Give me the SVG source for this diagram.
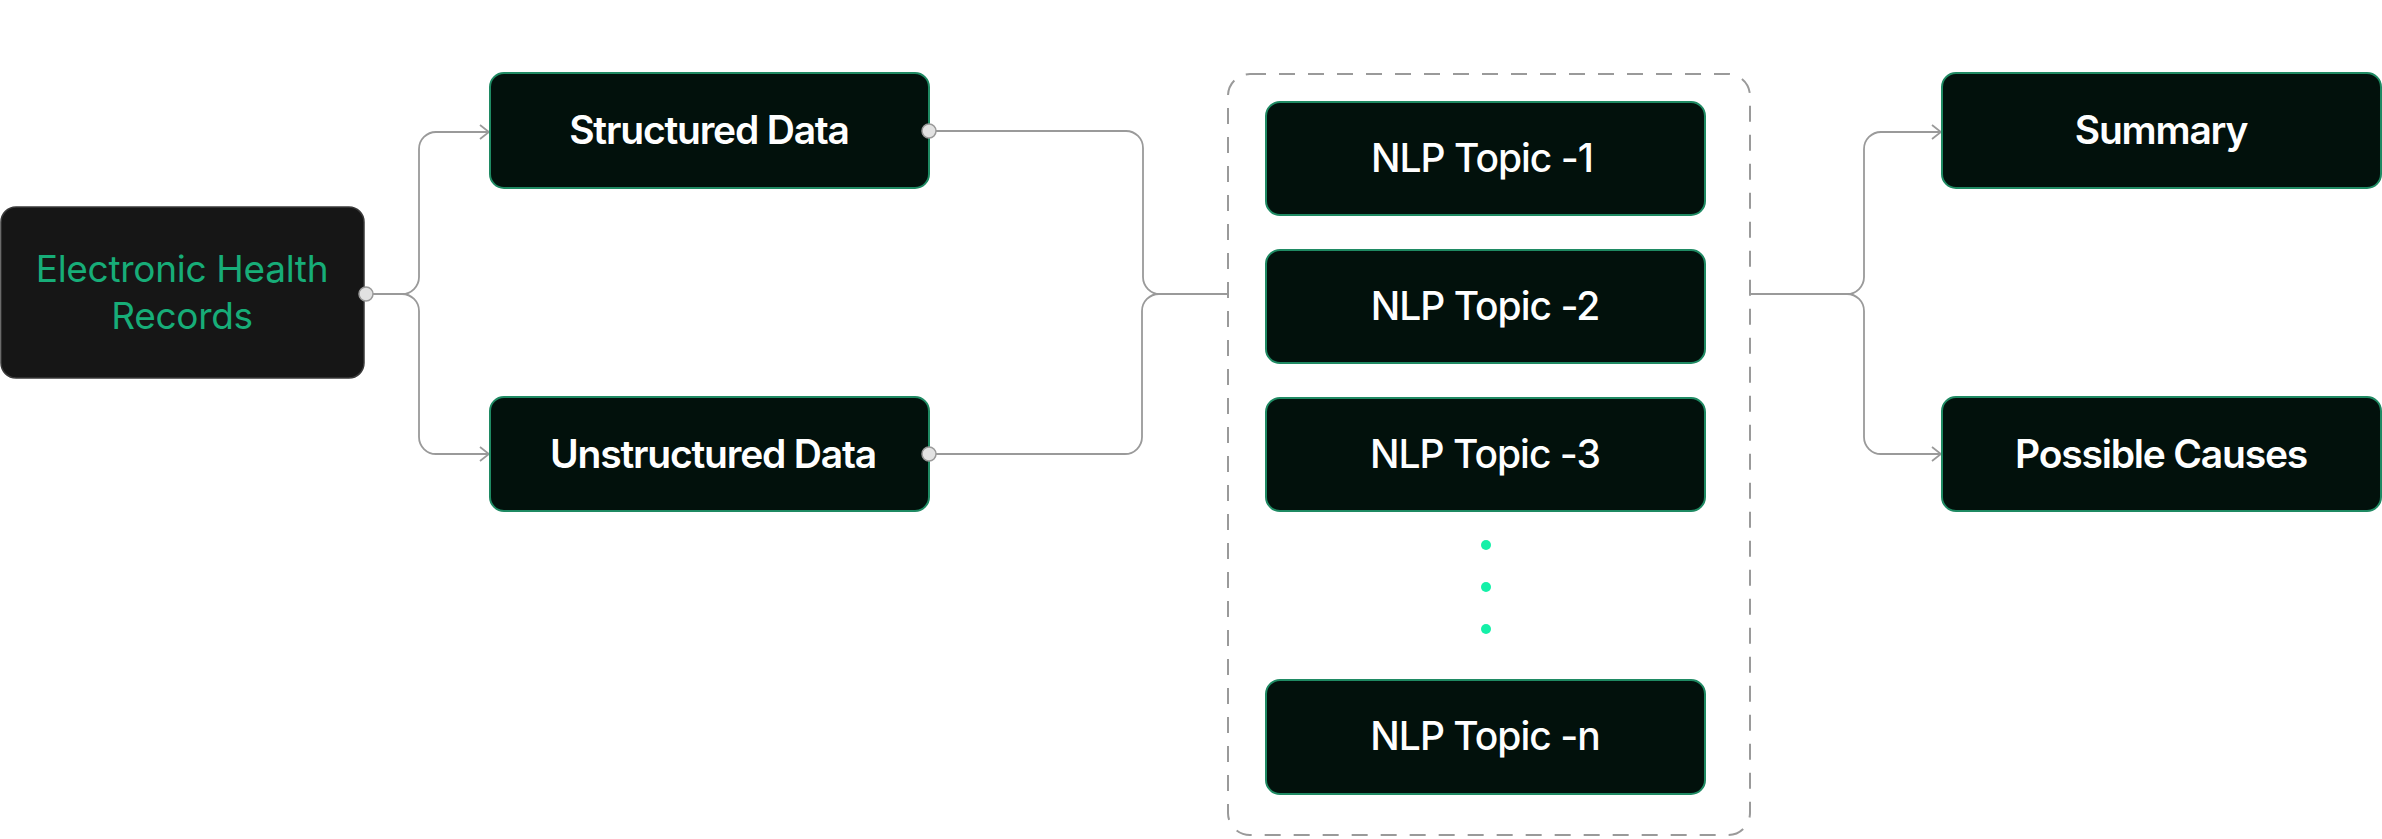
<svg xmlns="http://www.w3.org/2000/svg" width="2382" height="839" viewBox="0 0 2382 839">
  <defs>
    <marker id="arrow" viewBox="0 0 11 16" refX="10" refY="8" markerWidth="11" markerHeight="16" markerUnits="userSpaceOnUse" orient="auto">
      <path d="M1,1 L10,8 L1,15" fill="none" stroke="#9a9a9a" stroke-width="1.8"/>
    </marker>
  </defs>
  <style>
    .box { fill: #02110c; stroke: #1f8a63; stroke-width: 2; }
    .ehr { fill: #161616; stroke: #3a3a3a; stroke-width: 1.5; }
    .lbl { font-family: Inter, "Liberation Sans", sans-serif; font-size: 39px; font-weight: 600; fill: #ffffff; text-anchor: middle; letter-spacing: -1.2px; }
    .nlp { font-weight: 500; letter-spacing: -1px; }
    .ehrt { font-family: Inter, "Liberation Sans", sans-serif; font-size: 37px; font-weight: 400; fill: #17ad78; text-anchor: middle; letter-spacing: -0.3px; }
    .conn { fill: none; stroke: #9a9a9a; stroke-width: 1.8; }
    .port { fill: #e2e2e2; stroke: #9a9a9a; stroke-width: 1.5; }
    .dot { fill: #14f0a8; }
    .group { fill: none; stroke: #9a9a9a; stroke-width: 2; stroke-dasharray: 16 13; }
  </style>
  <rect width="2382" height="839" fill="#ffffff"/>

  <g id="container">
    <rect class="group" x="1228" y="74" width="522" height="761" rx="22"/>
  </g>

  <g id="connectors">
    <path class="conn" d="M 373 294 H 402 A 17 17 0 0 0 419 277 V 149 A 17 17 0 0 1 436 132 H 489" marker-end="url(#arrow)"/>
    <path class="conn" d="M 373 294 H 402 A 17 17 0 0 1 419 311 V 437 A 17 17 0 0 0 436 454 H 489" marker-end="url(#arrow)"/>
    <path class="conn" d="M 936 131 H 1126 A 17 17 0 0 1 1143 148 V 277 A 17 17 0 0 0 1160 294 H 1228"/>
    <path class="conn" d="M 936 454 H 1125 A 17 17 0 0 0 1142 437 V 311 A 17 17 0 0 1 1159 294"/>
    <path class="conn" d="M 1750 294 H 1847 A 17 17 0 0 0 1864 277 V 149 A 17 17 0 0 1 1881 132 H 1941" marker-end="url(#arrow)"/>
    <path class="conn" d="M 1810 294 H 1847 A 17 17 0 0 1 1864 311 V 437 A 17 17 0 0 0 1881 454 H 1941" marker-end="url(#arrow)"/>
  </g>

  <g id="ehr">
    <rect class="ehr" x="1" y="207" width="363" height="171" rx="15"/>
    <text class="ehrt" x="182" y="282">Electronic Health</text>
    <text class="ehrt" x="182" y="329">Records</text>
    <circle class="port" cx="366" cy="294" r="7"/>
  </g>

  <g id="structured">
    <rect class="box" x="490" y="73" width="439" height="115" rx="14"/>
    <text class="lbl" x="709" y="144">Structured Data</text>
    <circle class="port" cx="929" cy="131" r="7"/>
  </g>

  <g id="unstructured">
    <rect class="box" x="490" y="397" width="439" height="114" rx="14"/>
    <text class="lbl" x="713" y="468">Unstructured Data</text>
    <circle class="port" cx="929" cy="454" r="7"/>
  </g>

  <g id="nlp1">
    <rect class="box" x="1266" y="102" width="439" height="113" rx="14"/>
    <text class="lbl nlp" x="1482" y="172">NLP Topic -1</text>
  </g>

  <g id="nlp2">
    <rect class="box" x="1266" y="250" width="439" height="113" rx="14"/>
    <text class="lbl nlp" x="1485" y="320">NLP Topic -2</text>
  </g>

  <g id="nlp3">
    <rect class="box" x="1266" y="398" width="439" height="113" rx="14"/>
    <text class="lbl nlp" x="1485" y="468">NLP Topic -3</text>
  </g>

  <g id="ellipsis">
    <circle class="dot" cx="1486" cy="545" r="5"/>
    <circle class="dot" cx="1486" cy="587" r="5"/>
    <circle class="dot" cx="1486" cy="629" r="5"/>
  </g>

  <g id="nlpn">
    <rect class="box" x="1266" y="680" width="439" height="114" rx="14"/>
    <text class="lbl nlp" x="1485" y="750">NLP Topic -n</text>
  </g>

  <g id="summary">
    <rect class="box" x="1942" y="73" width="439" height="115" rx="14"/>
    <text class="lbl" x="2161" y="144">Summary</text>
  </g>

  <g id="causes">
    <rect class="box" x="1942" y="397" width="439" height="114" rx="14"/>
    <text class="lbl" x="2161" y="468">Possible Causes</text>
  </g>
</svg>
